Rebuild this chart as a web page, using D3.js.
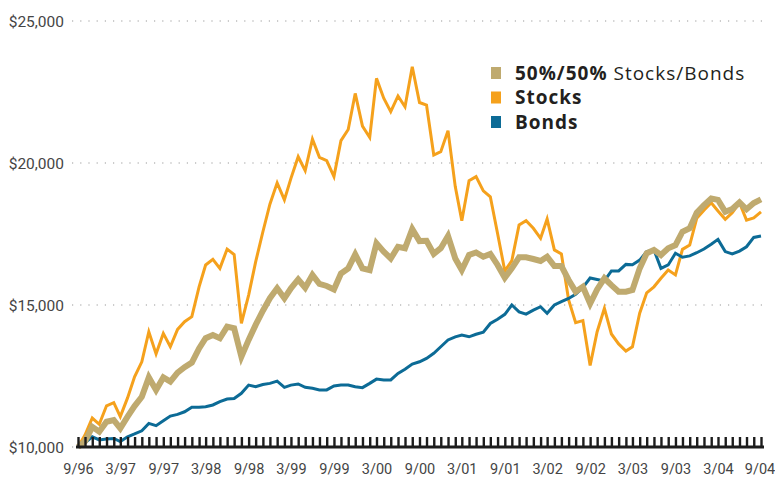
<!DOCTYPE html>
<html>
<head>
<meta charset="utf-8">
<script src="https://cdn.jsdelivr.net/npm/d3@7"></script>
<style>
  body { margin: 0; background: #fff; }
  svg { display: block; }
</style>
</head>
<body>
<svg id="chart" width="775" height="478"></svg>
<script>
// monthly growth of $10,000, 9/96 - 9/04
var startMonth = "9/96";
var xLabels = ["9/96","3/97","9/97","3/98","9/98","3/99","9/99","3/00","9/00",
               "3/01","9/01","3/02","9/02","3/03","9/03","3/04","9/04"];
var yTicks = [10000, 15000, 20000, 25000];

var stocks = [10000,10420,11020,10800,11450,11560,11070,11730,12470,13000,
  14060,13280,14000,13530,14140,14410,14590,15640,16410,16610,
  16290,16970,16780,14350,15350,16520,17580,18550,19300,18700,
  19460,20220,19730,20840,20200,20080,19520,20790,21180,22450,
  21300,20900,22980,22280,21810,22360,21980,23390,22130,22040,
  20280,20400,21140,19170,17970,19380,19520,19020,18810,17520,
  16200,16560,17820,17970,17700,17350,18030,16940,16800,15180,
  14380,14450,12870,14060,14880,13980,13630,13380,13530,14710,
  15430,15640,15940,16230,16060,16960,17110,18050,18340,18600,
  18310,18020,18250,18600,17990,18070,18280];

var bonds = [10000,10150,10360,10250,10280,10300,10190,10360,10460,10570,
  10830,10750,10920,11090,11150,11240,11400,11400,11420,11480,
  11600,11690,11710,11890,12180,12120,12200,12240,12320,12100,
  12180,12220,12100,12070,12010,12010,12150,12180,12180,12120,
  12090,12240,12390,12360,12360,12590,12740,12920,13000,13120,
  13300,13530,13770,13880,13940,13880,13970,14040,14350,14500,
  14670,15000,14760,14680,14820,14940,14710,15000,15120,15230,
  15380,15620,15950,15900,15850,16200,16200,16430,16420,16580,
  16880,16940,16290,16410,16820,16680,16730,16840,16970,17140,
  17310,16880,16800,16900,17050,17380,17430];

var blend = [10000,10200,10710,10540,10890,10950,10660,11070,11440,11770,
  12450,12010,12450,12300,12620,12810,12970,13470,13830,13940,
  13830,14240,14180,13180,13770,14300,14800,15240,15590,15240,
  15590,15900,15610,16060,15740,15670,15550,16110,16290,16780,
  16290,16230,17170,16880,16640,17050,17000,17670,17250,17260,
  16800,17000,17430,16640,16230,16760,16850,16700,16800,16410,
  15960,16290,16680,16680,16620,16550,16700,16370,16370,15880,
  15470,15640,15050,15550,15940,15700,15470,15470,15530,16290,
  16820,16940,16760,17000,17110,17580,17700,18250,18520,18750,
  18700,18280,18380,18610,18370,18590,18720];

var colStocks = "#f5a11c", colBonds = "#0c6b96", colBlend = "#bfaa6f";
var axisFont = "Roboto, 'Liberation Sans', sans-serif";

var svg = d3.select("#chart");
var parse = d3.timeParse("%m/%y");
var months = d3.range(stocks.length).map(function(i){
  return d3.timeMonth.offset(parse(startMonth), i);
});

var x = d3.scaleTime()
    .domain([months[0], months[months.length-1]])
    .range([78, 761]);
var y = d3.scaleLinear()
    .domain([10000, 25000])
    .range([447, 21]);

// dotted gridlines
svg.append("g")
  .selectAll("line")
  .data(yTicks)
  .enter()
  .append("line")
  .attr("x1", 72).attr("x2", 768)
  .attr("y1", function(d){ return y(d); })
  .attr("y2", function(d){ return y(d); })
  .attr("stroke", "#9a9a9a")
  .attr("stroke-width", 1.2)
  .attr("stroke-dasharray", "1.2,7");

// y labels
var yAxis = svg.append("g")
  .attr("transform", "translate(66,0)")
  .call(d3.axisLeft(y).tickValues(yTicks).tickSize(0).tickPadding(2)
        .tickFormat(d3.format("$,")));
yAxis.select(".domain").remove();
yAxis.selectAll("text")
  .attr("dy", "0.36em")
  .style("font-family", axisFont)
  .style("font-size", "15.5px")
  .attr("fill", "#454545");

// lines
var line = function(vals){
  return d3.line()
    .x(function(d, i){ return x(months[i]); })
    .y(function(d){ return y(d); })(vals);
};

svg.append("path").attr("d", line(stocks))
  .attr("fill", "none").attr("stroke", colStocks).attr("stroke-width", 3);
svg.append("path").attr("d", line(bonds))
  .attr("fill", "none").attr("stroke", colBonds).attr("stroke-width", 3);
svg.append("path").attr("d", line(blend))
  .attr("fill", "none").attr("stroke", colBlend).attr("stroke-width", 6);

// monthly tick axis
var tickAxis = svg.append("g")
  .attr("transform", "translate(0,447)")
  .call(d3.axisBottom(x).tickValues(months).tickSizeInner(-10).tickSizeOuter(0)
        .tickFormat(""));
tickAxis.select(".domain").remove();
tickAxis.selectAll("line")
  .attr("stroke", "#1c1c1c")
  .attr("stroke-width", 2.4);
tickAxis.append("line")
  .attr("x1", x(months[0]) - 2)
  .attr("x2", x(months[months.length-1]) + 3)
  .attr("stroke", "#1c1c1c")
  .attr("stroke-width", 3);

// month labels
var labAxis = svg.append("g")
  .attr("transform", "translate(0,447)")
  .call(d3.axisBottom(x).tickValues(xLabels.map(parse)).tickSize(0)
        .tickFormat(function(d, i){ return xLabels[i]; }));
labAxis.select(".domain").remove();
labAxis.selectAll("text")
  .attr("y", 27).attr("dy", 0)
  .attr("dx", function(d, i){ return i === xLabels.length - 1 ? -1.5 : 0; })
  .style("font-family", axisFont)
  .style("font-size", "14.5px")
  .attr("fill", "#454545");

// legend
var legendItems = [
  {bold: "50%/50%", rest: " Stocks/Bonds", color: colBlend},
  {bold: "Stocks", rest: "", color: colStocks},
  {bold: "Bonds", rest: "", color: colBonds}
];
var lg = svg.append("g").attr("transform", "translate(491,67)");
var rows = lg.selectAll("g")
  .data(legendItems)
  .enter()
  .append("g")
  .attr("transform", function(d, i){ return "translate(0," + (i*24.5) + ")"; });
rows.append("rect")
  .attr("width", 10).attr("height", 12)
  .attr("fill", function(d){ return d.color; });
var txt = rows.append("text")
  .attr("x", 24).attr("y", 12.5)
  .style("font-family", "'Open Sans',sans-serif")
  .style("font-size", "19px")
  .style("letter-spacing", "1px")
  .attr("fill", "#231f20");
txt.append("tspan").style("font-weight", "bold").text(function(d){ return d.bold; });
txt.append("tspan").text(function(d){ return d.rest; });
</script>
</body>
</html>
